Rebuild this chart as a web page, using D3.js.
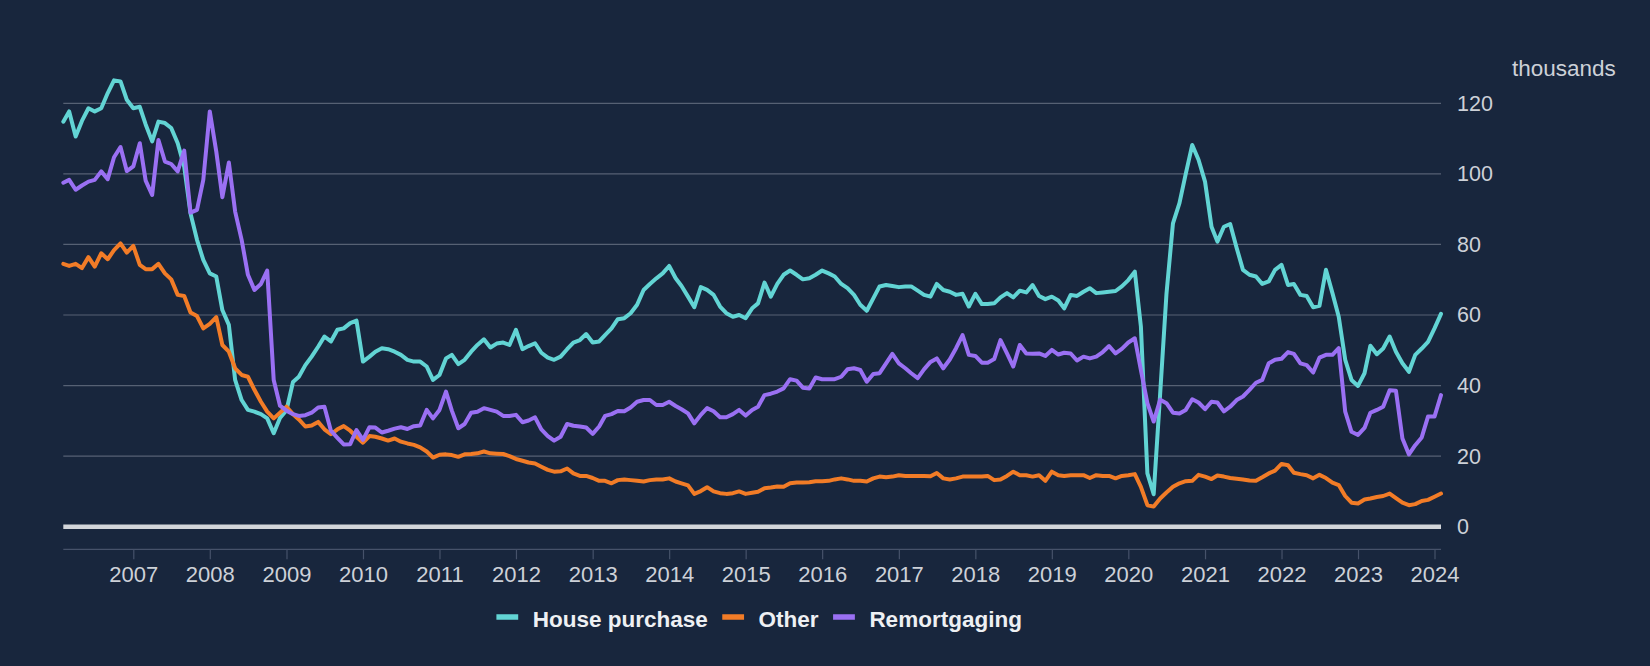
<!DOCTYPE html>
<html>
<head>
<meta charset="utf-8">
<script src="https://cdn.jsdelivr.net/npm/d3@7"></script>
<style>
  html, body { margin: 0; padding: 0; background: #18263d; }
  svg { display: block; }
  text { font-family: "Liberation Sans", Arial, Helvetica, sans-serif; }
</style>
</head>
<body>
<svg id="chart" width="1650" height="666"></svg>
<script>
// ---- DATA (monthly, starting February 2006) ----
const firstMonth = "2006-02";
const seriesNames = ["House purchase", "Other", "Remortgaging"];
const yearTicks = [2007,2008,2009,2010,2011,2012,2013,2014,2015,2016,2017,2018,2019,2020,2021,2022,2023,2024];
const valueTicks = [0, 20, 40, 60, 80, 100, 120];
const unitLabel = "thousands";

const housePurchase = [
114.8,117.7,110.6,115,118.6,117.7,118.6,122.9,126.5,126.2,121,118.6,119,114,109.2,114.8,114.4,113,108.7,102,
88.8,81.3,75.6,71.8,70.9,61.4,57.2,41.6,35.9,33.1,32.6,31.9,30.7,26.5,30.8,33,41,42.5,45.8,48.2,
51,53.9,52.5,55.8,56.2,57.7,58.4,46.8,48.2,49.6,50.6,50.3,49.6,48.7,47.3,46.8,46.8,45.4,41.6,43,
47.7,48.7,46.1,47.3,49.6,51.5,53.1,50.8,51.9,52.2,51.5,55.8,50.3,51.2,52,49.3,47.9,47.3,48.2,50.3,
52.2,52.9,54.6,52.2,52.5,54.3,56.2,58.8,59.1,60.5,62.9,67.1,68.8,70.4,71.8,73.9,70.4,68.2,65.2,62.2,
67.9,67.1,65.7,62.4,60.5,59.5,60,59.1,61.9,63.3,69.2,65.2,68.8,71.4,72.6,71.4,70.1,70.4,71.4,72.6,
71.8,70.9,68.8,67.6,65.7,62.9,61.2,64.7,68.1,68.5,68.2,67.9,68.1,68.1,66.9,65.7,65.2,68.8,67.1,66.6,
65.7,66,62.4,66,63.1,63.1,63.3,65,66.2,65,66.9,66.4,68.5,65.4,64.5,65.2,64.1,61.9,65.7,65.4,
66.6,67.6,66.2,66.4,66.6,66.8,68.1,69.9,72.3,56.7,15.1,9.2,37.8,66,86,91.7,100,108.2,104,97.8,
85,80.8,85,85.8,79,72.8,71.4,70.9,68.8,69.5,72.8,74.2,68.5,68.8,65.7,65.4,62.2,62.6,72.8,66.2,
59.5,47.3,41.6,39.9,43.5,51.3,48.9,50.5,53.9,49.6,46.3,43.9,48.7,50.5,52.4,56.2,60.3
];

const other = [
74.5,73.9,74.5,73.3,76.4,73.7,77.5,75.8,78.4,80.3,77.7,79.6,74.2,73,73,74.5,71.8,70.1,65.7,65.4,
60.7,59.7,56.2,57.5,59.4,51.5,49.6,44.9,43,42.5,38.8,35.4,32.6,30.7,32.3,34,31.9,30.4,28.4,28.7,
29.7,27.6,26.2,27.6,28.5,27.2,25.5,23.8,25.7,25.5,25,24.4,25,24.1,23.6,23.2,22.5,21.3,19.6,20.4,
20.5,20.3,19.8,20.5,20.6,20.8,21.3,20.8,20.7,20.6,20,19.2,18.7,18.2,17.9,17,16.1,15.6,15.7,16.5,
15.1,14.4,14.4,13.8,13,13,12.3,13.2,13.4,13.2,13,12.8,13.2,13.4,13.4,13.7,12.8,12.3,11.7,9.3,
10.1,11.2,10,9.5,9.3,9.5,10,9.3,9.6,9.9,10.9,11.1,11.4,11.3,12.3,12.5,12.5,12.6,12.9,12.9,
13,13.4,13.7,13.4,13,13,12.8,13.7,14.2,14,14.2,14.6,14.4,14.4,14.4,14.4,14.3,15.2,13.7,13.4,
13.7,14.2,14.2,14.2,14.2,14.4,13.2,13.4,14.4,15.6,14.6,14.6,14.2,14.6,13,15.6,14.6,14.4,14.6,14.6,
14.6,13.8,14.6,14.4,14.4,13.7,14.4,14.6,14.9,11.3,6.1,5.7,8,9.7,11.3,12.3,12.9,13,14.7,14.2,
13.5,14.5,14.2,13.8,13.6,13.4,13.1,13,14,15.1,15.9,17.8,17.4,15.3,14.9,14.6,13.7,14.7,13.8,12.5,
11.8,8.7,6.8,6.6,7.7,8,8.4,8.7,9.4,8.1,6.8,6.1,6.4,7.3,7.6,8.5,9.4
];

const remortgaging = [
97.5,98.3,95.5,96.7,97.8,98.3,100.7,98.5,104.7,107.6,100.8,102.1,108.7,98.1,94,109.6,103.5,102.8,100.7,106.6,
89,89.8,98.3,117.7,106.3,93.4,103.2,89.3,81.3,71.4,67.1,68.8,72.6,41.6,34.3,32.9,31.9,31.4,31.6,32.3,
33.8,34,27.2,25.2,23.3,23.4,27.4,24.6,28.2,28.1,26.7,27.2,27.8,28.2,27.7,28.5,28.7,33.1,30.7,33.1,
38.3,32.9,27.9,29.1,32.3,32.6,33.6,33.1,32.6,31.4,31.4,31.7,29.6,30.1,31,27.6,25.7,24.4,25.5,29.1,
28.6,28.4,28.1,26.3,28.4,31.4,31.9,32.8,32.7,33.8,35.4,35.9,35.9,34.5,34.5,35.4,34.2,33.3,32.1,29.3,
31.7,33.6,32.7,31,31,31.9,33.1,31.5,33.1,34,37.3,37.7,38.3,39.2,41.8,41.4,39.4,39.2,42.3,41.8,
41.8,41.8,42.5,44.6,44.9,44.4,41.1,43.3,43.5,46.3,49,46.3,44.9,43.5,42.1,44.6,46.7,47.7,44.9,47.4,
50.6,54.3,48.7,48.4,46.5,46.5,47.5,52.9,49.1,45.4,51.5,49.1,49,49.1,48.4,50.1,48.8,49.3,49.1,47.1,
48.2,47.7,48.2,49.5,51.2,49.1,50.4,52.2,53.4,44.4,35,29.8,36,35,32.3,32.1,33.1,36.1,35.2,33.3,
35.4,35.2,32.7,34,35.9,36.9,38.8,40.8,41.6,46.3,47.3,47.6,49.5,49,46.3,45.8,43.7,47.9,48.7,48.7,
50.6,32.6,26.9,26,28,32.3,33.1,34,38.7,38.5,25,20.5,23.1,25.3,31.2,31.2,37.3
];

const seriesColors = ["#62d4d4", "#f27c27", "#9a70f3"];
const seriesValues = [housePurchase, other, remortgaging];

// ---- LAYOUT ----
const svg = d3.select("#chart");
const W = 1650, H = 666;
const plot = { left: 63.3, right: 1441, top: 103.3, zeroY: 526.7, bottom: 549.3 };

const parseMonth = d3.timeParse("%Y-%m");
const start = parseMonth(firstMonth);
const months = housePurchase.map((_, i) => d3.timeMonth.offset(start, i));

const x = d3.scaleTime()
  .domain([months[0], months[months.length - 1]])
  .range([plot.left, plot.right]);

const y = d3.scaleLinear()
  .domain([0, 120])
  .range([plot.zeroY, plot.top]);

svg.append("rect").attr("width", W).attr("height", H).attr("fill", "#18263d");

// gridlines
const grid = svg.append("g");
grid.selectAll("line.g")
  .data(valueTicks.filter(v => v !== 0))
  .join("line")
  .attr("x1", plot.left).attr("x2", plot.right)
  .attr("y1", d => y(d)).attr("y2", d => y(d))
  .attr("stroke", "#566174").attr("stroke-width", 1.2);

// bottom x axis
const xAxis = d3.axisBottom(x)
  .tickValues(yearTicks.map(yr => new Date(yr, 0, 1)))
  .tickFormat(d3.timeFormat("%Y"))
  .tickSize(10)
  .tickPadding(7);
const gx = svg.append("g")
  .attr("transform", `translate(0,${plot.bottom})`)
  .call(xAxis);
gx.select(".domain").attr("stroke", "#46526a").attr("stroke-width", 1.2)
  .attr("d", `M${plot.left},0H${plot.right}`);
gx.selectAll(".tick line").attr("stroke", "#46526a").attr("stroke-width", 1.2);
gx.selectAll(".tick text")
  .attr("fill", "#cdd1d8")
  .style("font-size", "22px")
  .style("font-family", "'Liberation Sans', Arial, sans-serif");

// right y labels
const yAxis = d3.axisRight(y).tickValues(valueTicks).tickSize(0).tickPadding(0);
const gy = svg.append("g")
  .attr("transform", `translate(${plot.right + 16},0)`)
  .call(yAxis);
gy.select(".domain").remove();
gy.selectAll(".tick text")
  .attr("fill", "#cdd1d8")
  .attr("x", 0)
  .style("font-size", "21.5px")
  .style("font-family", "'Liberation Sans', Arial, sans-serif");

svg.append("text")
  .attr("x", 1512).attr("y", 76)
  .attr("fill", "#cdd1d8")
  .style("font-size", "22.5px")
  .text(unitLabel);

// series lines
const line = d3.line()
  .x((d, i) => x(months[i]))
  .y(d => y(d));

seriesValues.forEach((vals, k) => {
  svg.append("path")
    .datum(vals)
    .attr("fill", "none")
    .attr("stroke", seriesColors[k])
    .attr("stroke-width", 4)
    .attr("stroke-linejoin", "round")
    .attr("stroke-linecap", "round")
    .attr("d", line);
});

// zero line on top
svg.append("line")
  .attr("x1", plot.left).attr("x2", plot.right)
  .attr("y1", y(0)).attr("y2", y(0))
  .attr("stroke", "#d2d5da").attr("stroke-width", 4.5);

// legend
const legend = svg.append("g");
let lx = 496.4;
const ly = 617;
seriesNames.forEach((name, k) => {
  legend.append("line")
    .attr("x1", lx).attr("x2", lx + 21.8)
    .attr("y1", ly).attr("y2", ly)
    .attr("stroke", seriesColors[k]).attr("stroke-width", 5.5);
  const t = legend.append("text")
    .attr("x", lx + 36.3).attr("y", ly + 9.5)
    .attr("fill", "#eef0f3")
    .style("font-size", "22.5px")
    .style("font-weight", "bold")
    .text(name);
  const w = t.node().getComputedTextLength();
  lx = lx + 36.3 + w + 14.5;
});
</script>
</body>
</html>
